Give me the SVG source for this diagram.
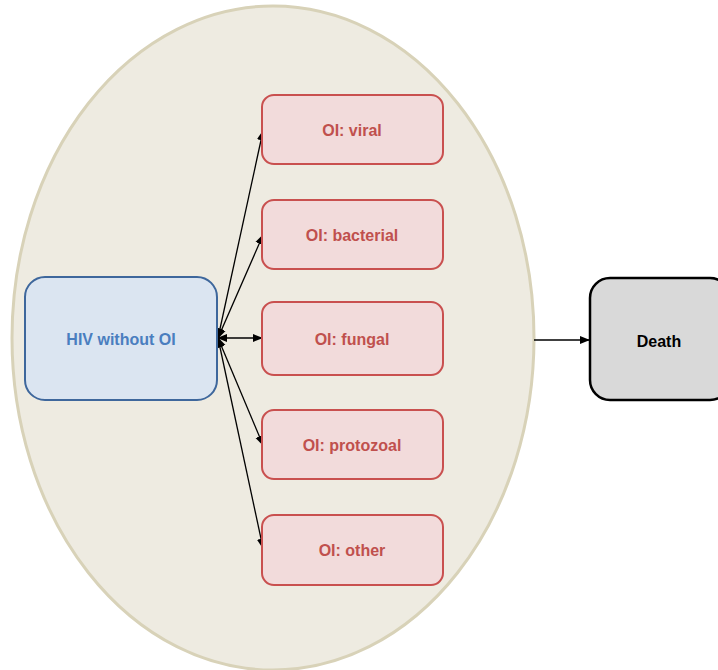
<svg xmlns="http://www.w3.org/2000/svg" width="718" height="670" viewBox="0 0 718 670">
<style>
text{font-family:"Liberation Sans",Arial,sans-serif;font-weight:bold;font-size:16px;text-anchor:middle;dominant-baseline:central}
.oi rect{fill:#f2dbdb;stroke:#c9504f;stroke-width:2}
.oi text{fill:#c0504d}
.c{stroke:#000;stroke-width:1.3;fill:none}
</style>
<defs>
<marker id="a" viewBox="0 0 10 10" refX="9" refY="5" markerWidth="8" markerHeight="8" orient="auto-start-reverse"><path d="M0,1 L10,5 L0,9 z" fill="#000"/></marker>
</defs>
<g id="region"><ellipse cx="273" cy="338" rx="261" ry="332" fill="#eeebe1" stroke="#d8d2b8" stroke-width="3"/></g>
<g id="connectors">
<line class="c" x1="218" y1="338" x2="263" y2="131" marker-start="url(#a)" marker-end="url(#a)"/>
<line class="c" x1="218" y1="338" x2="263" y2="235" marker-start="url(#a)" marker-end="url(#a)"/>
<line class="c" x1="218" y1="338" x2="262" y2="338" marker-start="url(#a)" marker-end="url(#a)"/>
<line class="c" x1="218" y1="338" x2="263" y2="445" marker-start="url(#a)" marker-end="url(#a)"/>
<line class="c" x1="218" y1="338" x2="263" y2="548" marker-start="url(#a)" marker-end="url(#a)"/>
<line class="c" x1="534" y1="340" x2="589" y2="340" marker-end="url(#a)"/>
</g>
<g id="hiv"><rect x="25" y="277" width="192" height="123" rx="20" fill="#dbe5f1" stroke="#3e679c" stroke-width="2"/><text x="121" y="339" fill="#4a7ebf">HIV without OI</text></g>
<g id="viral" class="oi"><rect x="262" y="95" width="181" height="69" rx="12"/><text x="352" y="130">OI: viral</text></g>
<g id="bacterial" class="oi"><rect x="262" y="200" width="181" height="69" rx="12"/><text x="352" y="235">OI: bacterial</text></g>
<g id="fungal" class="oi"><rect x="262" y="302" width="181" height="73" rx="12"/><text x="352" y="339">OI: fungal</text></g>
<g id="protozoal" class="oi"><rect x="262" y="410" width="181" height="69" rx="12"/><text x="352" y="445">OI: protozoal</text></g>
<g id="other" class="oi"><rect x="262" y="515" width="181" height="70" rx="12"/><text x="352" y="550">OI: other</text></g>
<g id="death"><rect x="590" y="278" width="140" height="122" rx="20" fill="#d9d9d9" stroke="#000" stroke-width="2.5"/><text x="659" y="341" fill="#000">Death</text></g>
</svg>
